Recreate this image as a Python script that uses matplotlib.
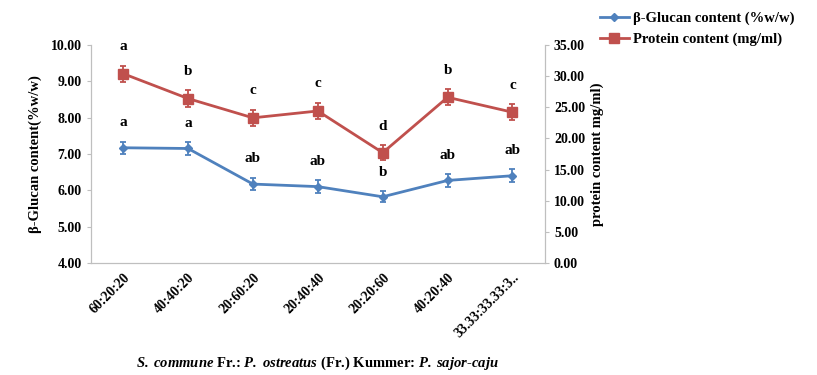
import matplotlib.pyplot as plt
from matplotlib.lines import Line2D

plt.rcParams['font.family'] = 'Liberation Serif'
plt.rcParams['font.weight'] = 'bold'
plt.rcParams['axes.labelweight'] = 'bold'
plt.rcParams['mathtext.fontset'] = 'custom'
plt.rcParams['mathtext.bfit'] = 'Liberation Serif:bold:italic'
plt.rcParams['mathtext.rm'] = 'Liberation Serif:bold'

ratios = ["60:20:20", "40:40:20", "20:60:20", "20:40:40", "20:20:60", "40:20:40", "33.33:33.33:3.."]
glucan = [7.17, 7.15, 6.17, 6.10, 5.82, 6.27, 6.40]
glucan_err = [0.17, 0.17, 0.17, 0.17, 0.15, 0.17, 0.18]
glucan_grp = ["a", "a", "ab", "ab", "b", "ab", "ab"]
protein = [30.4, 26.4, 23.3, 24.4, 17.7, 26.6, 24.2]
protein_err = [1.3, 1.3, 1.3, 1.3, 1.2, 1.3, 1.3]
protein_grp = ["a", "b", "c", "c", "d", "b", "c"]

BLUE = "#4F81BD"
RED = "#C0504D"
GREY = "#BFBFBF"


def main():
    fig = plt.figure(figsize=(8.17, 3.75), dpi=100)
    ax = fig.add_axes([0.111, 0.299, 0.556, 0.581])
    ax2 = ax.twinx()
    x = list(range(len(ratios)))

    ax.errorbar(x, glucan, yerr=glucan_err, color=BLUE, marker="D", markersize=4.5,
                linewidth=2, capsize=2.5, elinewidth=1.3, capthick=1.3)
    ax2.errorbar(x, protein, yerr=protein_err, color=RED, marker="s", markersize=7,
                 linewidth=2, capsize=2.5, elinewidth=1.3, capthick=1.3)

    for i in x:
        ax.annotate(glucan_grp[i], (i, glucan[i] + glucan_err[i]), xytext=(0, 9),
                    textcoords="offset points", ha="center", va="bottom", fontsize=11)
        ax2.annotate(protein_grp[i], (i, protein[i] + protein_err[i]), xytext=(0, 9),
                     textcoords="offset points", ha="center", va="bottom", fontsize=11)

    ax.set_xlim(-0.5, len(ratios) - 0.5)
    ax.set_ylim(4, 10)
    ax2.set_ylim(0, 35)
    ax.set_yticks([4, 5, 6, 7, 8, 9, 10])
    ax.set_yticklabels([f"{v:.2f}" for v in ax.get_yticks()])
    ax2.set_yticks(range(0, 36, 5))
    ax2.set_yticklabels([f"{v:.2f}" for v in ax2.get_yticks()])
    ax.set_xticks(x)
    ax.set_xticklabels(ratios, rotation=45, ha="right", rotation_mode="anchor")

    for a in (ax, ax2):
        a.spines["top"].set_visible(False)
        for s in ("left", "right", "bottom"):
            a.spines[s].set_color(GREY)
        a.tick_params(axis="y", colors=GREY, labelcolor="black", labelsize=10, length=3)
    ax.tick_params(axis="x", length=0, labelsize=10, pad=6)

    ax.set_ylabel("β-Glucan content(%w/w)", fontsize=10.5, labelpad=6)
    ax2.set_ylabel("protein content mg/ml)", fontsize=10.5, labelpad=4)
    ax.set_xlabel(r"$\mathbfit{S.\,commune}$ Fr.: $\mathbfit{P.\,ostreatus}$ (Fr.) Kummer: $\mathbfit{P.\,sajor}$-$\mathbfit{caju}$",
                  fontsize=10.5, labelpad=10)

    # legend shows plain line + marker, no error bars
    handles = [
        Line2D([], [], color=BLUE, marker="D", markersize=4.5, linewidth=2,
               label="β-Glucan content (%w/w)"),
        Line2D([], [], color=RED, marker="s", markersize=7, linewidth=2,
               label="Protein content (mg/ml)"),
    ]
    fig.legend(handles=handles, loc="upper left", bbox_to_anchor=(0.727, 0.985),
               frameon=False, fontsize=10.5, handlelength=2.0, handletextpad=0.3,
               labelspacing=0.55, borderaxespad=0)

    fig.savefig("out.png", dpi=100)


if __name__ == "__main__":
    main()
